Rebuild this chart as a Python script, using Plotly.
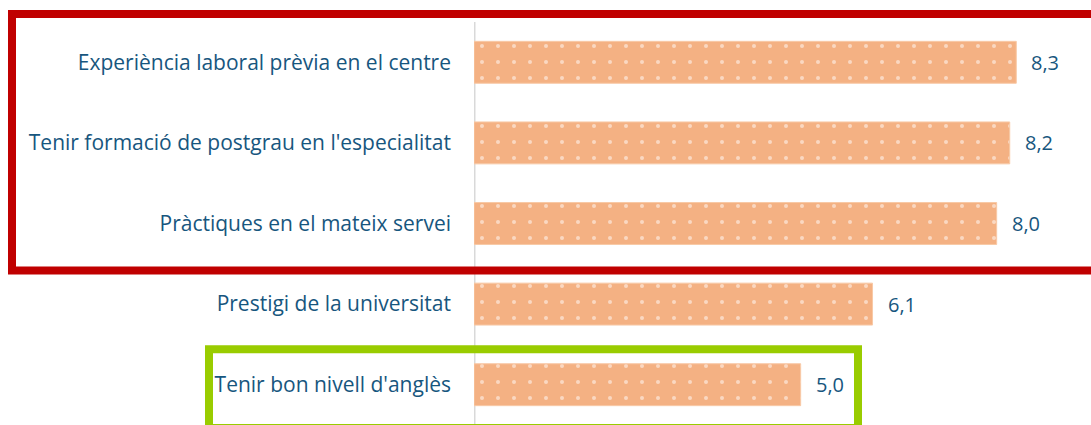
import plotly.graph_objects as go

categories = [
    "Experiència laboral prèvia en el centre",
    "Tenir formació de postgrau en l'especialitat",
    "Pràctiques en el mateix servei",
    "Prestigi de la universitat",
    "Tenir bon nivell d'anglès",
]
values = [8.3, 8.2, 8.0, 6.1, 5.0]
value_labels = [f"{v:.1f}".replace(".", ",") for v in values]

TEXT = "#17567E"
FONT = "Open Sans"
FS = 21

fig = go.Figure(
    go.Bar(
        x=values,
        y=categories,
        orientation="h",
        width=0.52,
        marker=dict(
            color="#F4B183",
            line=dict(color="#F8C9A6", width=1),
            pattern=dict(shape=".", fgcolor="white", bgcolor="#F4B183",
                         size=16, solidity=0.05, fillmode="overlay"),
        ),
        hoverinfo="skip",
    )
)

for v, lab, cat in zip(values, value_labels, categories):
    fig.add_annotation(x=v, y=cat, text=lab, showarrow=False, xanchor="left",
                       xshift=13, font=dict(family=FONT, size=FS - 1, color=TEXT))

fig.update_layout(
    width=1091, height=425,
    margin=dict(l=474, r=29, t=22, b=0),
    paper_bgcolor="white", plot_bgcolor="white",
    showlegend=False,
    font=dict(family=FONT, size=FS, color=TEXT),
    xaxis=dict(range=[0, 9], visible=False, fixedrange=True),
    yaxis=dict(autorange="reversed", showgrid=False, zeroline=False,
               showline=False, ticks="", ticklabelstandoff=22,
               tickfont=dict(family=FONT, size=FS, color=TEXT)),
    shapes=[
        dict(type="line", xref="x", yref="paper", x0=0, x1=0, y0=0, y1=1,
             line=dict(color="#D9D9D9", width=3), layer="below"),
        dict(type="rect", xref="paper", yref="paper",
             x0=(12 - 474) / 588, x1=(1100 - 474) / 588,
             y0=(425 - 270) / 404, y1=(425 - 13) / 404,
             line=dict(color="#C00000", width=8)),
        dict(type="rect", xref="paper", yref="paper",
             x0=(209 - 474) / 588, x1=(858 - 474) / 588,
             y0=(425 - 428) / 404, y1=(425 - 349) / 404,
             line=dict(color="#99CC00", width=8)),
    ],
)

fig.write_html(
    "out.html",
    config={"displayModeBar": False},
    post_script="document.body.style.margin='0';document.body.style.padding='0';",
)
